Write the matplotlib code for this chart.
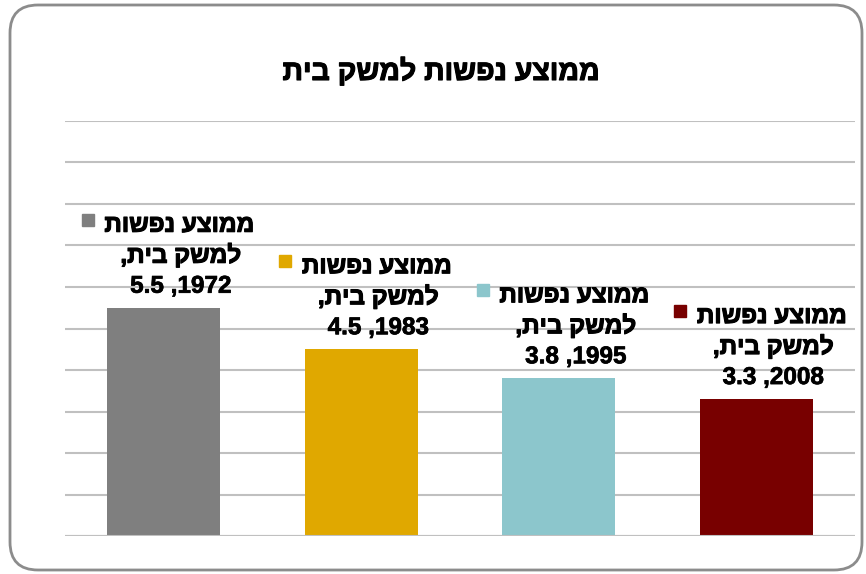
import matplotlib
import matplotlib.pyplot as plt
import matplotlib.patheffects as pe
from matplotlib.patches import FancyBboxPatch
from matplotlib.transforms import IdentityTransform, offset_copy

matplotlib.use('Agg')

# data
title = "ממוצע נפשות למשק בית"
label_top = "ממוצע נפשות"
label_mid = "למשק בית,"
years = [1972, 1983, 1995, 2008]
values = [5.5, 4.5, 3.8, 3.3]
colors = ['#7f7f7f', '#e0a800', '#8cc6cc', '#780000']

fonts = ['Liberation Sans', 'DejaVu Sans']
# hebrew glyphs come out thin, thicken them a bit
heavy = [pe.withStroke(linewidth=0.8, foreground='black')]
heavy_num = [pe.withStroke(linewidth=0.5, foreground='black')]


# matplotlib has no bidi, so hebrew is drawn in visual order
def rtl(s):
    return s[::-1]


fig = plt.figure(figsize=(8.66, 5.74), dpi=100)

# rounded frame around the chart
frame = FancyBboxPatch((10, 4), 852, 565, boxstyle="round,pad=0,rounding_size=28",
                       transform=IdentityTransform(), facecolor='none',
                       edgecolor='#8c8c8c', linewidth=2, zorder=-1)
fig.patches.append(frame)

ax = fig.add_axes([65 / 866, 38 / 574, 790 / 866, 415 / 574])
ax.set_facecolor('none')

x = list(range(len(years)))
ax.bar(x, values, width=0.57, color=colors, zorder=2)

ax.set_xlim(-0.5, 3.5)
ax.set_ylim(0, 10)
ax.set_yticks(range(0, 11))
ax.set_xticks([])
ax.tick_params(left=False, labelleft=False)
ax.grid(axis='y', color='#c0c0c0', linewidth=1.5, zorder=1)
for s in ax.spines.values():
    s.set_visible(False)
ax.axhline(0, color='#c0c0c0', linewidth=1.5, zorder=3)

# data labels
for i, (yr, v, c) in enumerate(zip(years, values, colors)):
    ax.annotate(f"{v} ,{yr}", xy=(i, v), xytext=(17, 15), textcoords='offset pixels',
                ha='center', va='baseline', fontsize=17.5, fontweight='bold', family=fonts,
                path_effects=heavy_num)
    ax.annotate(rtl(label_mid), xy=(i, v), xytext=(17, 45), textcoords='offset pixels',
                ha='center', va='baseline', fontsize=17.5, fontweight='bold', family=fonts,
                path_effects=heavy)
    ax.annotate(rtl(label_top), xy=(i, v), xytext=(90, 76), textcoords='offset pixels',
                ha='right', va='baseline', fontsize=17.5, fontweight='bold', family=fonts,
                path_effects=heavy)
    trans = offset_copy(ax.transData, fig=fig, x=-76, y=88, units='dots')
    ax.plot(i, v, marker='s', markersize=8.6, color=c, transform=trans, clip_on=False)

fig.text(441 / 866, 1 - 80 / 574, rtl(title), ha='center', va='baseline',
         fontsize=20.5, fontweight='bold', family=fonts, path_effects=heavy)

plt.savefig('out.png', dpi=100)
plt.close()
